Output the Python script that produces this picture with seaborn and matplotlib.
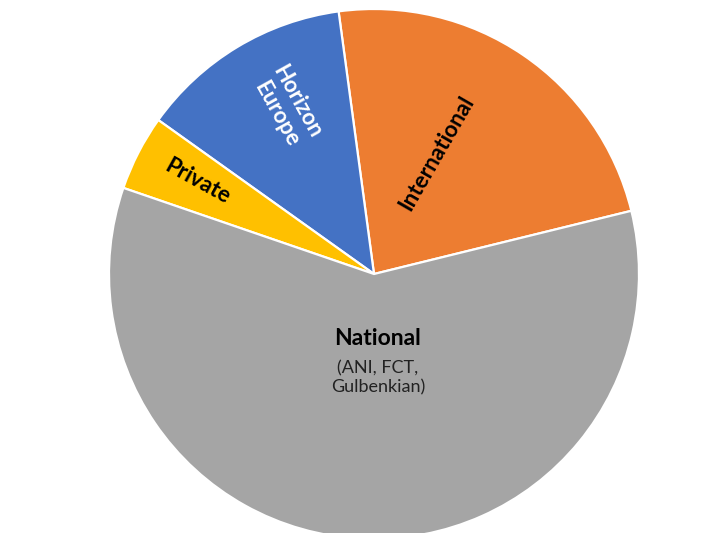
import matplotlib
matplotlib.use("Agg")
import matplotlib.pyplot as plt
import seaborn as sns

sns.set_theme(style="white")
plt.rcParams['font.family'] = ['Lato', 'DejaVu Sans']

categories = ["International", "Horizon Europe", "Private", "National"]
values = [23.3, 13.0, 4.6, 59.1]
colors = ["#ED7D31", "#4472C4", "#FFC000", "#A5A5A5"]

W, H = 726, 533
cx, cy, R = 374, 274, 265

fig = plt.figure(figsize=(W / 100, H / 100), dpi=100)
ax = fig.add_axes([0, 0, 1, 1])
ax.pie(values, colors=colors, startangle=13.8, counterclock=True,
       wedgeprops=dict(edgecolor="white", linewidth=1.6))
ax.set_xlim(-cx / R, (W - cx) / R)
ax.set_ylim((cy - H) / R, cy / R)
ax.set_aspect("equal")
ax.axis("off")


def P(px, py):
    return (px - cx) / R, (cy - py) / R


ax.text(*P(437, 153), "International", rotation=60, ha="center", va="center",
        fontsize=16.2, fontweight="bold", color="black", rotation_mode="anchor")
ax.text(*P(287, 108), "Horizon\nEurope", rotation=-61, ha="center", va="center",
        fontsize=16, fontweight="bold", color="white", rotation_mode="anchor",
        linespacing=1.2)
ax.text(*P(198, 182), "Private", rotation=-29, ha="center", va="center",
        fontsize=16, fontweight="bold", color="black", rotation_mode="anchor")
ax.text(*P(378, 339), "National", ha="center", va="center",
        fontsize=16.5, fontweight="bold", color="black")
ax.text(*P(378, 378), "(ANI, FCT,\nGulbenkian)", ha="center", va="center",
        fontsize=13, color="#222222", linespacing=1.25)

fig.savefig("out.png", dpi=100)
